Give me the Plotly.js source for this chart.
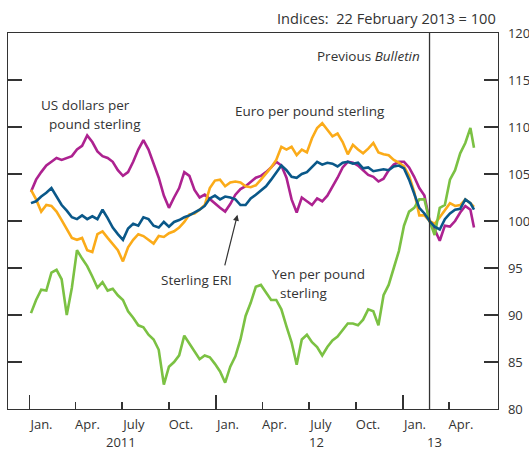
<!DOCTYPE html>
<html>
<head>
<meta charset="utf-8">
<script src="https://cdn.plot.ly/plotly-3.0.1.min.js"></script>
<style>
  html, body { margin: 0; padding: 0; background: #fff; }
  #chart { width: 529px; height: 450px; }
</style>
</head>
<body>
<div id="chart"></div>
<script>
// Dates of observations (roughly every ten days)
const dates = [
  "2011-01-04","2011-01-14","2011-01-24","2011-02-03","2011-02-13","2011-02-23","2011-03-05","2011-03-15","2011-03-25","2011-04-04",
  "2011-04-14","2011-04-24","2011-05-04","2011-05-14","2011-05-24","2011-06-03","2011-06-13","2011-06-23","2011-07-03","2011-07-13",
  "2011-07-23","2011-08-02","2011-08-12","2011-08-22","2011-09-01","2011-09-11","2011-09-21","2011-10-01","2011-10-11","2011-10-21",
  "2011-10-31","2011-11-10","2011-11-20","2011-11-30","2011-12-10","2011-12-20","2011-12-30","2012-01-09","2012-01-19","2012-01-29",
  "2012-02-08","2012-02-18","2012-02-28","2012-03-09","2012-03-19","2012-03-29","2012-04-08","2012-04-18","2012-04-28","2012-05-08",
  "2012-05-18","2012-05-28","2012-06-07","2012-06-17","2012-06-27","2012-07-07","2012-07-17","2012-07-27","2012-08-06","2012-08-16",
  "2012-08-26","2012-09-05","2012-09-15","2012-09-25","2012-10-05","2012-10-15","2012-10-25","2012-11-04","2012-11-14","2012-11-24",
  "2012-12-04","2012-12-14","2012-12-24","2013-01-03","2013-01-13","2013-01-23","2013-02-02","2013-02-12","2013-02-22","2013-03-04",
  "2013-03-14","2013-03-24","2013-04-03","2013-04-13","2013-04-23","2013-05-03","2013-05-13","2013-05-20"
];

// US dollars per pound sterling (index)
const usd = [
  103.1,104.4,105.2,105.9,106.3,106.7,106.5,106.7,106.9,107.6,
  108.0,109.1,108.4,107.4,106.9,106.7,106.3,105.4,104.8,105.2,
  106.3,107.6,108.6,107.6,106.0,104.6,102.7,101.4,102.5,103.5,
  105.2,104.8,103.3,102.5,102.8,102.3,101.9,101.4,101.0,101.8,
  102.8,103.4,103.7,104.2,104.6,104.8,105.2,105.7,106.3,105.9,
  104.6,102.3,100.9,102.5,102.1,101.7,102.4,102.1,102.7,103.6,
  104.6,105.7,106.3,106.2,105.9,105.4,104.9,104.7,104.2,104.5,
  105.4,106.0,106.3,106.3,105.7,104.7,103.5,102.7,100.0,99.1,
  97.9,99.5,99.4,100.0,100.9,101.6,101.2,99.3
];

// Euro per pound sterling (index)
const eur = [
  103.3,102.3,101.0,101.7,101.6,101.0,100.1,99.1,98.2,98.0,
  98.2,96.9,96.7,98.6,98.9,98.2,97.6,96.9,95.7,97.2,
  98.0,98.6,98.4,98.0,97.6,98.4,98.3,98.7,98.9,99.3,
  99.9,100.7,100.8,101.2,101.7,103.5,104.3,104.4,103.7,104.1,
  104.2,104.1,103.7,103.6,103.8,104.4,105.0,105.7,106.5,107.9,
  107.6,107.9,107.0,107.6,107.3,108.8,109.9,110.4,109.7,109.0,
  109.3,108.4,107.1,108.1,107.6,107.2,107.7,108.3,107.3,107.1,
  107.0,106.5,106.2,105.8,104.8,103.1,100.6,100.6,100.0,99.7,
  100.4,101.2,101.9,101.6,101.7,102.3,101.9,101.5
];

// Sterling ERI (index)
const eri = [
  101.9,102.1,102.6,103.0,103.5,102.6,101.7,101.1,100.4,100.2,
  100.6,100.2,100.5,100.2,101.2,100.3,99.3,98.6,98.0,99.2,
  99.7,99.5,100.4,100.2,99.5,99.3,99.9,99.4,99.9,100.1,
  100.4,100.6,100.9,101.2,101.6,102.4,102.7,102.3,102.6,102.5,
  102.3,101.7,101.7,102.4,102.8,103.3,103.7,104.4,105.1,105.9,
  105.4,104.7,104.6,105.0,105.2,105.7,106.3,106.0,106.2,106.1,
  105.8,106.2,106.3,106.1,106.2,105.6,105.7,105.3,105.4,105.5,
  105.4,105.8,105.9,105.6,104.4,102.9,101.4,100.8,100.0,99.4,
  99.1,100.2,100.8,101.2,101.3,102.3,101.9,101.2
];

// Yen per pound sterling (index)
const jpy = [
  90.2,91.6,92.7,92.6,94.5,94.8,93.8,90.0,92.9,96.9,
  96.0,95.2,94.1,92.9,93.5,92.6,92.8,92.1,91.6,90.4,
  89.7,88.9,88.7,87.9,87.4,86.3,82.6,84.5,85.0,85.7,
  87.8,87.0,86.2,85.3,85.7,85.5,84.8,84.0,82.8,84.5,
  85.6,87.4,89.9,91.3,93.0,93.2,92.4,91.6,91.6,90.6,
  88.8,87.1,84.7,87.4,87.9,87.1,86.6,85.7,86.6,87.3,
  87.7,88.4,89.1,89.1,88.9,89.5,90.6,90.4,88.9,92.1,
  93.2,95.0,96.8,99.5,101.0,101.4,102.3,102.3,100.0,98.5,
  101.4,101.7,104.4,105.4,107.2,108.3,109.9,107.8
];

// Axis tick labels
const quarterTicks = ["2011-01-01","2011-04-01","2011-07-01","2011-10-01","2012-01-01","2012-04-01","2012-07-01","2012-10-01","2013-01-01","2013-04-01"];
const quarterLabels = ["Jan.","Apr.","July","Oct.","Jan.","Apr.","July","Oct.","Jan.","Apr."];
const yearTicks = ["2011-01-01","2012-01-01","2013-01-01"];
const yearLabels = ["2011","12","13"];
const previousBulletin = "2013-02-22";

const FONT = "'Open Sans', 'Noto Sans', sans-serif";
const TXT = "#333333";
const LBL = 13.5;

function series(y, color, name) {
  return { x: dates, y: y, type: "scatter", mode: "lines", name: name,
           line: { color: color, width: 2.6 }, hoverinfo: "skip" };
}

const traces = [
  series(usd, "#ad2290", "US dollars per pound sterling"),
  series(eur, "#fbab19", "Euro per pound sterling"),
  series(jpy, "#7bc143", "Yen per pound sterling"),
  series(eri, "#0a5889", "Sterling ERI"),
  { x: [], y: [], xaxis: "x2", type: "scatter", mode: "lines", showlegend: false, hoverinfo: "skip" }
];

const xRange = ["2010-11-20", "2013-07-06"];

const ann = (text, x, y, opts) => Object.assign({
  text: text, xref: "paper", yref: "paper", x: x, y: y,
  showarrow: false, font: { family: FONT, size: LBL, color: TXT },
  xanchor: "center", yanchor: "middle"
}, opts || {});

const layout = {
  width: 529, height: 450,
  margin: { l: 8, r: 31, t: 33, b: 41 },
  paper_bgcolor: "#ffffff", plot_bgcolor: "#ffffff",
  showlegend: false,
  font: { family: FONT, size: 13, color: TXT },
  xaxis: {
    type: "date", range: xRange,
    tickmode: "array", tickvals: quarterTicks, ticktext: quarterLabels,
    ticks: "inside", ticklen: 7, tickwidth: 1.3, tickcolor: TXT,
    ticklabelshift: 12, ticklabelstandoff: 3,
    showline: true, linecolor: TXT, linewidth: 1.3, mirror: true,
    showgrid: false, zeroline: false,
    tickfont: { family: FONT, size: 13, color: TXT }
  },
  xaxis2: {
    type: "date", range: xRange, overlaying: "x", anchor: "y",
    tickmode: "array", tickvals: yearTicks,
    ticks: "inside", ticklen: 14, tickwidth: 1.3, tickcolor: TXT,
    showticklabels: false, showline: false, showgrid: false, zeroline: false
  },
  yaxis: {
    range: [80, 120], side: "right", dtick: 5, tick0: 80,
    ticks: "inside", ticklen: 14, tickwidth: 1.3, tickcolor: TXT,
    ticklabelstandoff: 6,
    showline: true, linecolor: TXT, linewidth: 1.3, mirror: "ticks",
    showgrid: false, zeroline: false,
    tickfont: { family: FONT, size: 13, color: TXT }
  },
  shapes: [
    { type: "line", xref: "x", yref: "paper", x0: previousBulletin, x1: previousBulletin, y0: 0, y1: 1,
      line: { color: TXT, width: 1.3 } }
  ],
  annotations: [
    ann("Indices:&nbsp;&nbsp;22 February 2013 = 100", 1.0, 1.0412, { xanchor: "right", font: { family: FONT, size: 14.6, color: TXT } }),
    ann("Previous <i>Bulletin</i>", 0.8443, 0.9396, { xanchor: "right" }),
    ann("US dollars per", 0.159, 0.8085),
    ann("pound sterling", 0.1776, 0.758),
    ann("Euro per pound sterling", 0.6163, 0.7926),
    ann("Sterling ERI", 0.3837, 0.3431),
    ann("Yen per pound", 0.6327, 0.359),
    ann("sterling", 0.6031, 0.3093),
    { text: "", xref: "x", yref: "y", x: "2012-02-12", y: 100.66, ax: -13, ay: 52,
      showarrow: true, arrowhead: 2, arrowsize: 1, arrowwidth: 1.2, arrowcolor: TXT },
    ann(yearLabels[0], 0.2316, -0.0878, { font: { family: FONT, size: 13, color: TXT } }),
    ann(yearLabels[1], 0.6306, -0.0878, { font: { family: FONT, size: 13, color: TXT } }),
    ann(yearLabels[2], 0.8704, -0.0878, { font: { family: FONT, size: 13, color: TXT } })
  ]
};

Plotly.newPlot("chart", traces, layout, { displayModeBar: false, staticPlot: true });
</script>
</body>
</html>
